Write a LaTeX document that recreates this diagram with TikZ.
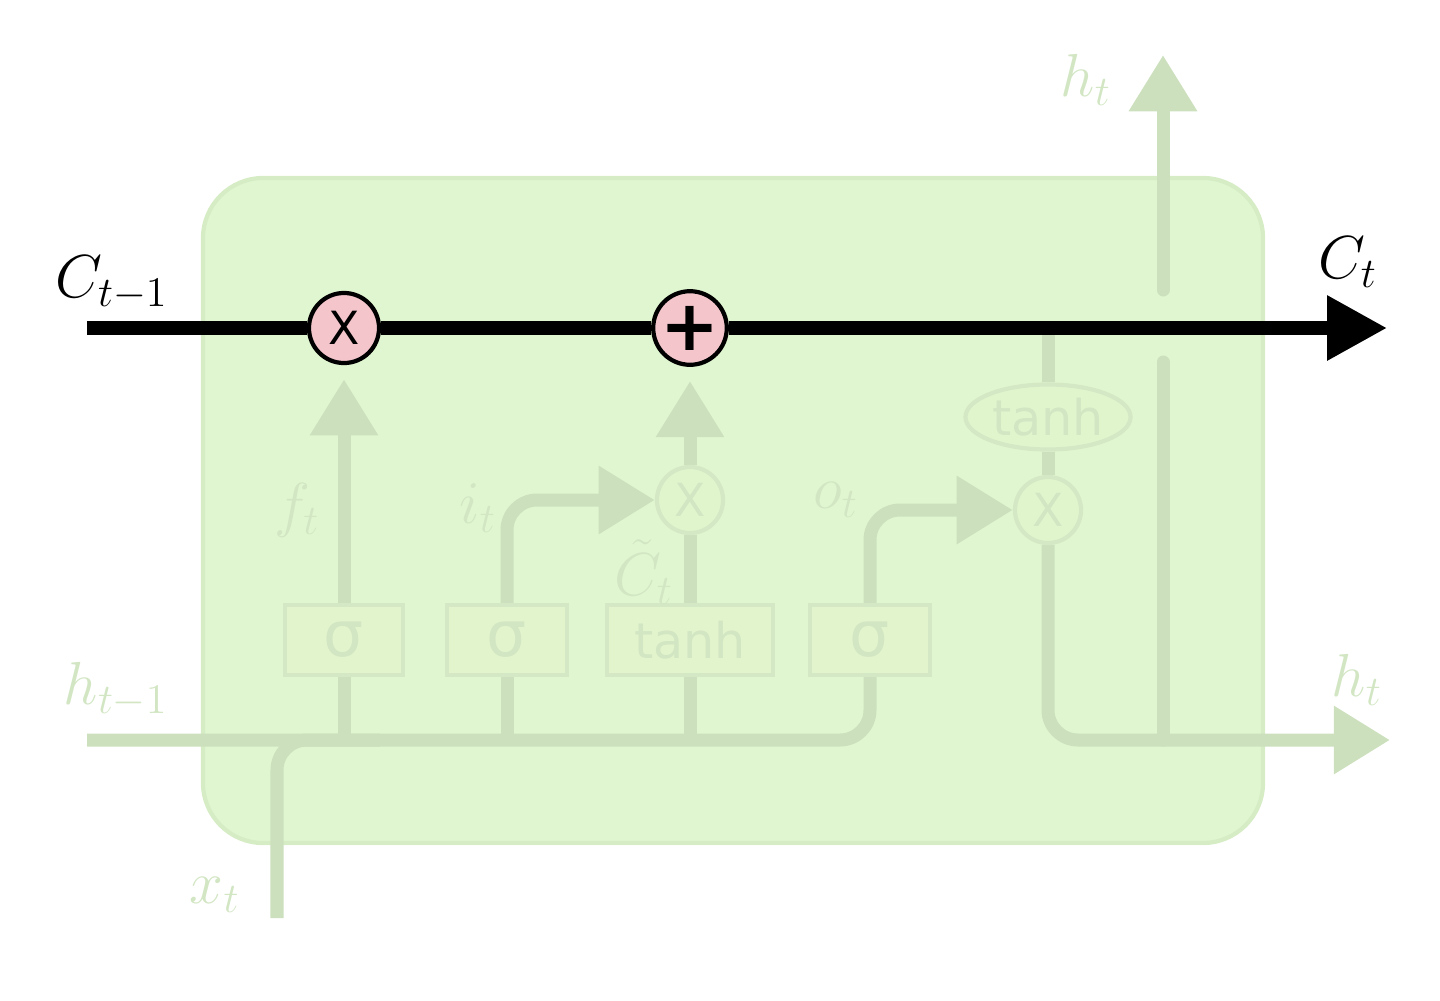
\documentclass[tikz,border=0pt]{standalone}
\usepackage{fontspec}
\usetikzlibrary{arrows.meta,shapes.geometric}
\newfontfamily\gatefont{DejaVu Sans}
\definecolor{cellfill}{HTML}{E0F6D0}
\definecolor{cellborder}{HTML}{D5ECC5}
\definecolor{fline}{HTML}{CCE0BD}
\definecolor{ftext}{HTML}{D2E6C4}
\definecolor{gatefill}{HTML}{E2F4CB}
\definecolor{gateborder}{HTML}{D5E8C5}
\definecolor{pinkop}{HTML}{F4C6CC}
\pgfdeclarelayer{bg}
\pgfdeclarelayer{lines}
\pgfsetlayers{bg,lines,main}
\tikzset{
  cellline/.style={line width=3.8pt, black},
  fadedline/.style={line width=3.7pt, fline},
  fadedarrow/.style={fadedline, -{Triangle[length=16pt,width=18.5pt]}},
  gatebox/.style={draw=gateborder, line width=1.2pt, fill=gatefill, minimum height=0.7cm, inner sep=0pt, text=ftext, font=\gatefont\fontsize{18}{20}\selectfont},
  pinkcirc/.style={circle, draw=black, line width=1.2pt, fill=pinkop, minimum size=0.7cm, inner sep=0pt, font=\gatefont\fontsize{13}{14}\selectfont},
  fadedcirc/.style={circle, draw=gateborder, line width=1.2pt, fill=gatefill!60!cellfill, minimum size=0.66cm, inner sep=0pt, text=ftext, font=\gatefont\fontsize{13}{14}\selectfont},
  mlabel/.style={inner sep=0pt, font=\fontsize{18.5}{22}\selectfont},
  flabel/.style={mlabel, text=ftext},
}
\begin{document}
\begin{tikzpicture}[x=0.01cm, y=-0.01cm]
\useasboundingbox (0,0) rectangle (1440,1000);
% cell body
\begin{pgfonlayer}{bg}
\filldraw[fill=cellfill, draw=cellborder, line width=1.2pt, rounded corners=0.6cm] (203,178) rectangle (1263,843);
\end{pgfonlayer}
% coordinates
\coordinate (cstart) at (87,328);
\coordinate (cend) at (1387,328);
\coordinate (hin) at (87,740);
\coordinate (hout) at (1390,740);
\coordinate (htop) at (1163,55);
\coordinate (xin) at (277,918);
\coordinate (xjoin) at (380,740);
\coordinate (hbr) at (1163,740);
\coordinate (hgaplo) at (1163,362);
\coordinate (hgaphi) at (1163,290);
\coordinate (tanhtop) at (1048,328);
% operator nodes
\node[pinkcirc] (mulF) at (344,328) {X};
\node[pinkcirc, font=\gatefont\bfseries\fontsize{20}{20}\selectfont] (addI) at (690,328) {+};
\node[fadedcirc] (mulI) at (690,500) {X};
\node[fadedcirc] (mulO) at (1048,510) {X};
\node[ellipse, draw=gateborder, line width=1.2pt, fill=gatefill!60!cellfill, minimum width=1.65cm, minimum height=0.65cm, inner sep=0pt, text=ftext, font=\gatefont\fontsize{14}{16}\selectfont] (tanhE) at (1048,417) {tanh};
% gate boxes
\node[gatebox, minimum width=1.18cm] (sig1) at (344,640) {σ};
\node[gatebox, minimum width=1.2cm] (sig2) at (507,640) {σ};
\node[gatebox, minimum width=1.66cm, font=\gatefont\fontsize{14}{16}\selectfont] (tanhB) at (690,640) {tanh};
\node[gatebox, minimum width=1.2cm] (sig3) at (870,640) {σ};
% faded connectors
\begin{pgfonlayer}{lines}
\draw[fadedline, rounded corners=0.3cm] (hin) -| (sig3.south);
\draw[fadedline, rounded corners=0.3cm] (xin) |- (xjoin);
\draw[fadedline] (sig1.south) -- (sig1.south |- hin);
\draw[fadedline] (sig2.south) -- (sig2.south |- hin);
\draw[fadedline] (tanhB.south) -- (tanhB.south |- hin);
\draw[fadedarrow, shorten >=4pt] (sig1.north) -- (mulF.south);
\draw[fadedarrow, rounded corners=0.3cm] (sig2.north) |- (mulI.west);
\draw[fadedline] (tanhB.north) -- (mulI.south);
\draw[fadedarrow, shorten >=4pt] (mulI.north) -- (addI.south);
\draw[fadedarrow, rounded corners=0.3cm] (sig3.north) |- (mulO.west);
\draw[fadedline] (mulO.north) -- (tanhE.south);
\draw[fadedline] (tanhE.north) -- (tanhtop);
\draw[fadedarrow, rounded corners=0.3cm] (mulO.south) |- (hout);
\draw[fadedline, line cap=round] (hbr) -- (hgaplo);
\draw[fadedarrow, line cap=round] (hgaphi) -- (htop);
% cell state
\draw[cellline] (cstart) -- (mulF.west);
\draw[cellline] (mulF.east) -- (addI.west);
\draw[cellline, -{Triangle[length=17pt,width=17.5pt]}] (addI.east) -- (cend);
\end{pgfonlayer}
% labels
\node[mlabel] (lCprev) at (112,283) {$C_{t-1}$};
\node[mlabel] (lC) at (1348,262) {$C_t$};
\node[flabel] (lhtop) at (1086,80) {$h_t$};
\node[flabel] (lhout) at (1357,680) {$h_t$};
\node[flabel] (lhin) at (116,690) {$h_{t-1}$};
\node[flabel] (lx) at (215,895) {$x_t$};
\node[flabel] (lf) at (297,510) {$f_t$};
\node[flabel] (li) at (478,508) {$i_t$};
\node[flabel] (lo) at (836,500) {$o_t$};
\node[flabel] (lCt) at (644,572) {$\tilde{C}_t$};
\end{tikzpicture}
\end{document}
